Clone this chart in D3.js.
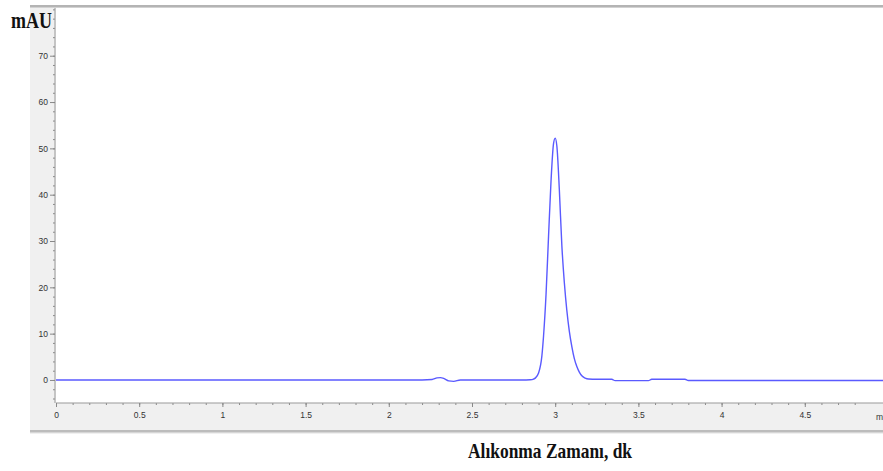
<!DOCTYPE html>
<html>
<head>
<meta charset="utf-8">
<script src="https://cdn.jsdelivr.net/npm/d3@7"></script>
<style>
  html, body { margin: 0; padding: 0; background: #fff; }
  svg { display: block; }
  .tick text { font-family: "Liberation Sans", Arial, sans-serif; font-size: 8.5px; fill: #333; }
  .tick line { stroke: #888; }
  .domain { stroke: #999; }
</style>
</head>
<body>
<svg id="viz" width="883" height="471"></svg>
<script>
"use strict";
// retention time (min) and signal (mAU)
const time = [0, 1.0, 2.2, 2.26, 2.29, 2.31, 2.33, 2.36, 2.39, 2.43, 2.8, 2.85, 2.87, 2.88, 2.9, 2.92, 2.93,
  2.945, 2.96, 2.975, 2.99, 3.0, 3.01, 3.025, 3.04, 3.055, 3.07, 3.085, 3.1, 3.115, 3.13, 3.145, 3.16, 3.18,
  3.2, 3.25, 3.34, 3.36, 3.56, 3.58, 3.78, 3.8, 4.97];
const signal = [0, 0, 0, 0.1, 0.45, 0.5, 0.35, -0.2, -0.3, 0, 0, 0.05, 0.2, 0.4, 1.5, 5.2, 9.5,
  18.5, 31, 43, 51, 52.2, 50.5, 41, 29, 21, 15, 10.5, 7.2, 4.6, 2.9, 1.7, 0.9, 0.4,
  0.2, 0.15, 0.15, -0.15, -0.15, 0.15, 0.15, -0.1, -0.1];
const yTickValues = [0, 10, 20, 30, 40, 50, 60, 70];
const xTickValues = [0, 0.5, 1, 1.5, 2, 2.5, 3, 3.5, 4, 4.5];
const yLabel = "mAU";
const xLabel = "Alıkonma Zamanı, dk";
const xUnit = "min";

let svg = d3.select("#viz"), w = 883, h = 471, margin = {
    top: 8,
    left: 56,
    bottom: 403,
    right: 883
};

// grey window chrome around the plot
svg.append("rect").attr("x", 30).attr("y", 7).attr("width", w - 30).attr("height", 427).attr("fill", "#f0f0f0");
svg.append("rect").attr("x", margin.left).attr("y", margin.top)
    .attr("width", margin.right - margin.left).attr("height", margin.bottom - margin.top).attr("fill", "#fff");
svg.append("rect").attr("x", 30).attr("y", 5).attr("width", w - 30).attr("height", 2.5).attr("fill", "#b4b4b4");
svg.append("rect").attr("x", 30).attr("y", 430).attr("width", w - 30).attr("height", 2.5).attr("fill", "#bcbcbc");

let xScale = d3.scaleLinear().domain([0, 4.97]).range([margin.left, margin.right]);
let yScale = d3.scaleLinear().domain([-4.97, 80.3]).range([margin.bottom, margin.top]);

// y axis: major + minor ticks
svg.append("g")
    .attr("transform", `translate(${margin.left - 1}, 0)`)
    .call(d3.axisLeft(yScale).tickValues(d3.range(-4, 81, 2)).tickSize(2).tickFormat(""))
    .call(g => g.select(".domain").remove());
svg.append("g")
    .attr("class", "y axis")
    .attr("transform", `translate(${margin.left - 1}, 0)`)
    .call(d3.axisLeft(yScale).tickValues(yTickValues).tickSize(5).tickPadding(2).tickFormat(d3.format("d")))
    .call(g => g.select(".domain").attr("d", `M0,${margin.top}V${margin.bottom}`));

// x axis: major + minor ticks
svg.append("g")
    .attr("transform", `translate(0, ${margin.bottom})`)
    .call(d3.axisBottom(xScale).tickValues(d3.range(0, 49).map(i => i / 10)).tickSize(2).tickFormat(""))
    .call(g => g.select(".domain").remove());
svg.append("g")
    .attr("class", "x axis")
    .attr("transform", `translate(0, ${margin.bottom})`)
    .call(d3.axisBottom(xScale).tickValues(xTickValues).tickSize(4).tickPadding(5).tickFormat(d => d3.format("")(d)))
    .call(g => g.select(".domain").attr("d", `M${margin.left},0H${margin.right}`));

// unit label, clipped by the window edge as in the original
svg.append("text")
    .attr("x", 876).attr("y", margin.bottom + 17)
    .style("font-family", "Liberation Sans, Arial, sans-serif").style("font-size", "8.5px").style("fill", "#333")
    .text(xUnit);

// trace
let line = d3.line()
    .x((d, i) => xScale(time[i]))
    .y(d => yScale(d))
    .curve(d3.curveMonotoneX);
svg.append("path")
    .datum(signal)
    .attr("d", line)
    .attr("fill", "none")
    .attr("stroke", "#5a5aff")
    .attr("stroke-width", 1.4);

// labels
svg.append("text")
    .attr("x", 11).attr("y", 28)
    .attr("textLength", 41).attr("lengthAdjust", "spacingAndGlyphs")
    .style("font-family", "Liberation Serif, Times New Roman, serif").style("font-weight", "bold").style("font-size", "23px")
    .style("fill", "#111")
    .text(yLabel);
svg.append("text")
    .attr("x", 468).attr("y", 458)
    .attr("textLength", 164).attr("lengthAdjust", "spacingAndGlyphs")
    .style("font-family", "Liberation Serif, Times New Roman, serif").style("font-weight", "bold").style("font-size", "22px")
    .style("fill", "#111")
    .text(xLabel);
</script>
</body>
</html>
